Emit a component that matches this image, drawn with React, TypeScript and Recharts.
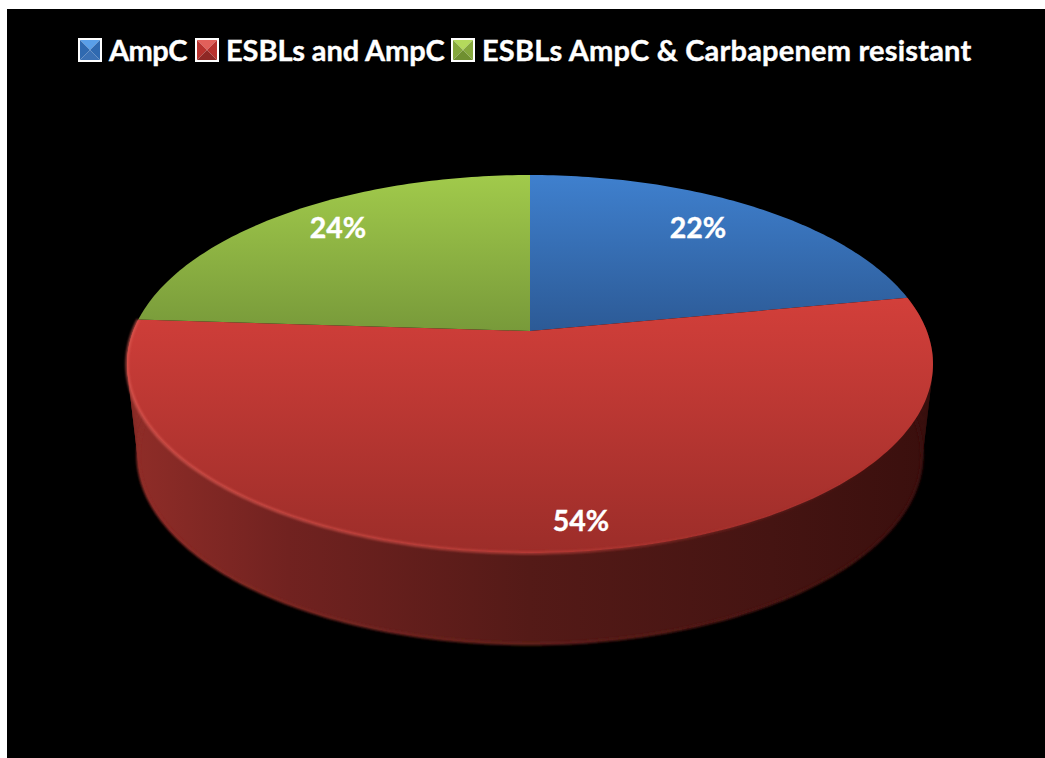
import { PieChart, Pie, Legend } from 'recharts';

const categories = ['AmpC', 'ESBLs and AmpC', 'ESBLs AmpC & Carbapenem resistant'];
const shares = [22, 54, 24];

const FONT = 'Lato, "Noto Sans", sans-serif';
const FACE_GRADIENTS = ['faceBlue', 'faceRed', 'faceGreen'];
const SWATCHES = [
  { top: '#5a9fe8', side: '#2f69b0', bottom: '#3a70b4' },
  { top: '#e2605a', side: '#b8322e', bottom: '#8f2825' },
  { top: '#b4da5c', side: '#85a83c', bottom: '#6f8f30' },
];
const LEGEND_X = [78, 195, 451];
const LEGEND_TEXT_X = [31, 31, 31];
const LEGEND_SPACING = [-0.55, -0.1, 0.2];
const LABEL_POS = [
  { x: 698, y: 227 },
  { x: 581, y: 520 },
  { x: 338, y: 227 },
];

// tilt of the disc: how much nearer the front edge is, and how flat it looks
const PERSPECTIVE = -0.1746;
const FLATTEN = 0.4617;
const DEPTH = 91;
const BASE_SHRINK = 0.973;
const RAD = Math.PI / 180;

type Pt = { x: number; y: number };

function rim(cx: number, cy: number, r: number, deg: number): Pt {
  const clock = (90 - deg) * RAD;
  const u = Math.sin(clock);
  const v = -Math.cos(clock);
  const d = 1 + PERSPECTIVE * v;
  return { x: cx + (r * u) / d, y: cy + (r * FLATTEN * v) / d };
}

function base(p: Pt, cx: number): Pt {
  return { x: cx + (p.x - cx) * BASE_SHRINK, y: p.y + DEPTH };
}

function toPath(pts: Pt[]) {
  return pts.map((p, i) => `${i ? 'L' : 'M'}${p.x.toFixed(2)} ${p.y.toFixed(2)}`).join(' ');
}

function sweep(start: number, end: number) {
  const n = Math.max(2, Math.ceil(Math.abs(end - start)));
  const out: number[] = [];
  for (let i = 0; i <= n; i++) out.push(start + ((end - start) * i) / n);
  return out;
}

function DiscSlice(props: any) {
  const { cx, cy, outerRadius, startAngle, endAngle, index } = props;
  const angles = sweep(startAngle, endAngle);
  const top = angles.map((a) => rim(cx, cy, outerRadius, a));
  const low = top.map((p) => base(p, cx));
  const face = toPath([{ x: cx, y: cy }, ...top]) + ' Z';
  // only the front half of the disc shows its side wall
  const isFront = Math.abs(endAngle - startAngle) > 180;
  return (
    <g>
      {isFront && <path d={toPath([...top, ...[...low].reverse()]) + ' Z'} fill="url(#wall)" />}
      {isFront &&
        top.slice(1).map((p, i) => (
          <path key={i} d={toPath([top[i], p, low[i + 1], low[i]]) + ' Z'} fill="url(#wall)" />
        ))}
      {isFront && <path d={toPath(low)} fill="none" stroke="url(#baseEdge)" strokeWidth={3} filter="url(#soft)" />}
      <path d={face} fill={`url(#${FACE_GRADIENTS[index]})`} />
      {isFront && <path d={toPath(top)} fill="none" stroke="url(#topEdge)" strokeWidth={3} filter="url(#soft)" />}
    </g>
  );
}

function sliceLabel(props: any) {
  const pos = LABEL_POS[props.index];
  return (
    <text
      x={pos.x}
      y={pos.y}
      textAnchor="middle"
      dominantBaseline="central"
      fill="#ffffff"
      stroke="#ffffff"
      strokeWidth={0.4}
      fontFamily={FONT}
      fontWeight={700}
      fontSize={28.5}
    >
      {shares[props.index]}%
    </text>
  );
}

function Swatch({ index }: { index: number }) {
  const c = SWATCHES[index];
  return (
    <svg width={24} height={24} style={{ position: 'absolute', left: 0, top: 0 }}>
      <rect x={0} y={0} width={24} height={24} fill="#ffffff" />
      <polygon points="2,2 22,2 12,12" fill={c.top} />
      <polygon points="2,2 2,22 12,12" fill={c.side} />
      <polygon points="22,2 22,22 12,12" fill={c.side} />
      <polygon points="2,22 22,22 12,12" fill={c.bottom} />
    </svg>
  );
}

function legendContent() {
  return (
    <div style={{ position: 'relative', width: 1045, height: 40 }}>
      {categories.map((name, i) => (
        <div key={name} style={{ position: 'absolute', left: LEGEND_X[i], top: 0, height: 24 }}>
          <Swatch index={i} />
          <span
            style={{
              position: 'absolute',
              left: LEGEND_TEXT_X[i],
              top: -5,
              color: '#ffffff',
              fontFamily: FONT,
              fontWeight: 700,
              fontSize: 29,
              letterSpacing: LEGEND_SPACING[i],
              WebkitTextStroke: '0.4px #ffffff',
              lineHeight: '34px',
              whiteSpace: 'nowrap',
            }}
          >
            {name}
          </span>
        </div>
      ))}
    </div>
  );
}

export default function App() {
  const rows = categories.map((name, i) => ({ name, value: shares[i] }));
  return (
    <div style={{ position: 'absolute', left: 0, top: 0, width: 1045, height: 758, background: '#ffffff', overflow: 'hidden' }}>
      <div style={{ position: 'absolute', left: 7, top: 9, right: 0, bottom: 0, background: '#000000' }} />
      <PieChart width={1045} height={758} style={{ position: 'absolute', left: 0, top: 0 }}>
        <defs>
          <linearGradient id="faceBlue" gradientUnits="userSpaceOnUse" x1="0" y1="175" x2="0" y2="331">
            <stop offset="0" stopColor="#3f80ce" />
            <stop offset="1" stopColor="#2c5a96" />
          </linearGradient>
          <linearGradient id="faceGreen" gradientUnits="userSpaceOnUse" x1="0" y1="175" x2="0" y2="331">
            <stop offset="0" stopColor="#a1ca4b" />
            <stop offset="1" stopColor="#789a3a" />
          </linearGradient>
          <linearGradient id="faceRed" gradientUnits="userSpaceOnUse" x1="0" y1="300" x2="0" y2="553">
            <stop offset="0" stopColor="#d23f3a" />
            <stop offset="1" stopColor="#9c2d29" />
          </linearGradient>
          <linearGradient id="wall" gradientUnits="userSpaceOnUse" x1="128" y1="0" x2="932" y2="0">
            <stop offset="0" stopColor="#902d28" />
            <stop offset="0.2" stopColor="#712220" />
            <stop offset="0.5" stopColor="#541a17" />
            <stop offset="0.8" stopColor="#451412" />
            <stop offset="1" stopColor="#3a0f0d" />
          </linearGradient>
          <linearGradient id="baseEdge" gradientUnits="userSpaceOnUse" x1="128" y1="0" x2="932" y2="0">
            <stop offset="0" stopColor="#8f2d28" />
            <stop offset="0.5" stopColor="#61201c" />
            <stop offset="1" stopColor="#3a0f0d" />
          </linearGradient>
          <linearGradient id="topEdge" gradientUnits="userSpaceOnUse" x1="128" y1="0" x2="932" y2="0">
            <stop offset="0" stopColor="#dd5a53" stopOpacity={0.75} />
            <stop offset="0.5" stopColor="#c8453f" stopOpacity={0.7} />
            <stop offset="0.8" stopColor="#b33430" stopOpacity={0.15} />
            <stop offset="1" stopColor="#b33430" stopOpacity={0} />
          </linearGradient>
          <filter id="soft" x="-5%" y="-5%" width="110%" height="110%">
            <feGaussianBlur stdDeviation="1" />
          </filter>
        </defs>
        <Legend
          content={legendContent}
          wrapperStyle={{ position: 'absolute', left: 0, top: 38, width: 1045, height: 40 }}
        />
        <Pie
          data={rows}
          dataKey="value"
          nameKey="name"
          cx={525}
          cy={326}
          innerRadius={0}
          outerRadius={396.8}
          startAngle={90}
          endAngle={-270}
          stroke="none"
          shape={DiscSlice}
          label={sliceLabel}
          labelLine={false}
          isAnimationActive={false}
        />
      </PieChart>
    </div>
  );
}
